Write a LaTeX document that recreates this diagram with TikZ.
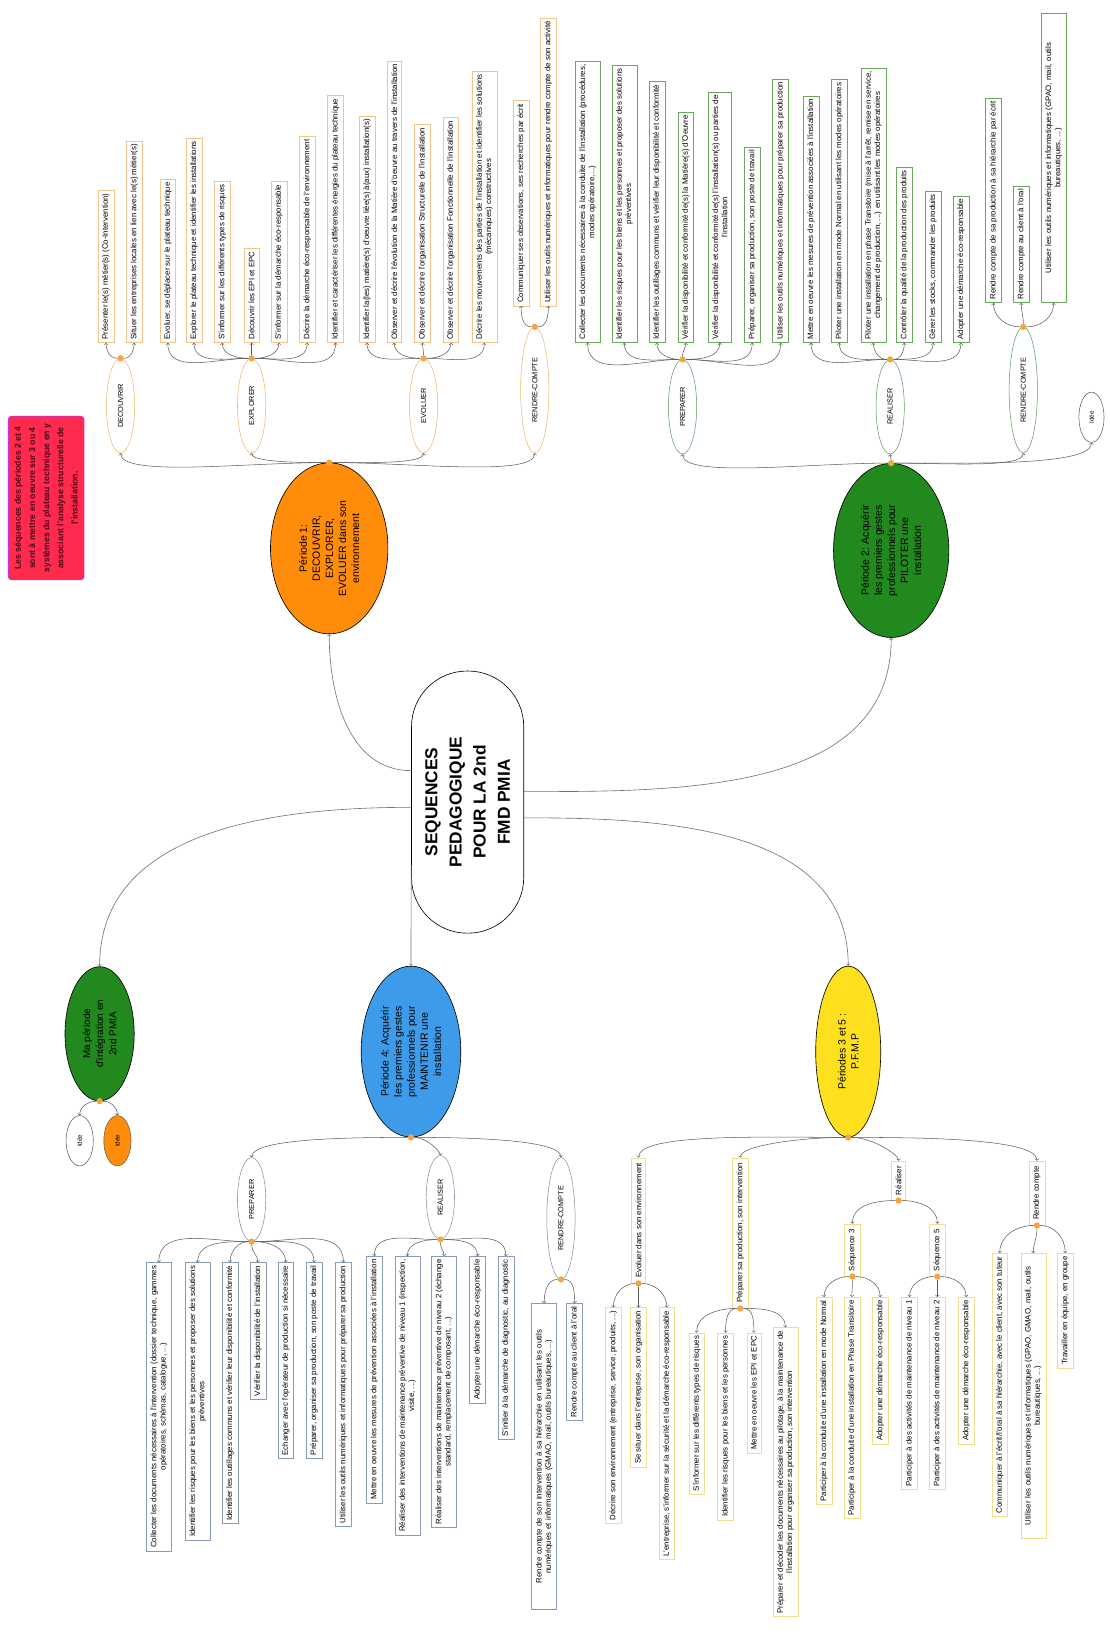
\documentclass[tikz,border=0pt]{standalone}
\usepackage{fontspec}
\setmainfont{Liberation Sans}
\usetikzlibrary{shapes.geometric}

\definecolor{porange}{HTML}{FF8C0A}
\definecolor{pgreen}{HTML}{22891E}
\definecolor{pblue}{HTML}{3D9BE9}
\definecolor{pyellow}{HTML}{FFE01E}
\definecolor{notered}{HTML}{FF2A4D}
\definecolor{noteline}{HTML}{CC33CC}
\definecolor{notetext}{HTML}{4A0A14}
\definecolor{hubcol}{HTML}{F7A440}
\definecolor{linkcol}{HTML}{5A5A5A}
\definecolor{orline}{HTML}{F0B46E}
\definecolor{orleaf}{HTML}{F3C58B}
\definecolor{grline}{HTML}{5A9E5A}
\definecolor{grleaf}{HTML}{6AA85E}
\definecolor{blline}{HTML}{8090A8}
\definecolor{blleaf}{HTML}{8A9BB8}
\definecolor{yeleaf}{HTML}{F0E08C}

\tikzstyle{rootnode} = [draw,rectangle,rounded corners=53pt,rotate=90,fill=white,align=center,minimum width=250pt,minimum height=107pt,font=\bfseries\fontsize{16.5}{23}\selectfont,line width=0.6pt]
\tikzstyle{period} = [draw,ellipse,rotate=90,align=center,inner sep=0pt,font=\fontsize{10}{12.5}\selectfont,line width=0.6pt]
\tikzstyle{branch} = [draw,ellipse,rotate=90,fill=white,inner sep=0pt,minimum width=90pt,minimum height=27pt,font=\fontsize{7}{8.4}\selectfont,line width=0.5pt]
\tikzstyle{leaf} = [draw,rectangle,rotate=90,fill=white,align=center,inner xsep=3pt,inner ysep=4pt,font=\fontsize{7.5}{8.8}\selectfont,line width=0.5pt]
\tikzstyle{notebox} = [draw=noteline,fill=notered,rectangle,rounded corners=3pt,rotate=90,align=center,text=notetext,minimum width=156pt,minimum height=72pt,font=\bfseries\fontsize{8.3}{13.5}\selectfont,line width=0.8pt]
\tikzstyle{hub} = [circle,fill=hubcol,inner sep=0pt,minimum size=6pt]
\tikzstyle{link} = [->,draw=linkcol,line width=0.5pt]
\tikzstyle{trunk} = [->,draw=linkcol!85,line width=0.6pt]
\tikzset{
  fanl/.style={out=180,in=-90}, fanr/.style={out=0,in=-90}, fanu/.style={out=90,in=-90},
  downl/.style={out=180,in=90}, downr/.style={out=0,in=90}, downs/.style={out=-90,in=90},
  spanl/.style={out=180,in=-90,in looseness=0.3}, spanr/.style={out=0,in=-90,in looseness=0.3},
  spandl/.style={out=180,in=90,in looseness=0.3}, spandr/.style={out=0,in=90,in looseness=0.3}
}

\begin{document}
\begin{tikzpicture}[x=1pt,y=1pt]
\useasboundingbox (0,0) rectangle (1058,-1568);

% note and centre
\node[notebox] (note) at (44,-475) {Les séquences des périodes 2 et 4\\sont à mettre en oeuvre sur 3 ou 4\\systèmes du plateau technique en y\\associant l'analyse structurelle de\\l'installation.};
\node[rootnode] (root) at (446,-765) {SEQUENCES\\PEDAGOGIQUE\\POUR LA 2nd\\FMD PMIA};

% periods
\node[period,fill=porange,minimum width=163pt,minimum height=112pt] (p1) at (314,-523) {Période 1:\\DECOUVRIR,\\EXPLORER,\\EVOLUER dans son\\environnement};
\node[period,fill=pgreen,minimum width=166pt,minimum height=110pt] (p2) at (850,-525) {Période 2: Acquérir\\les premiers gestes\\professionnels pour\\PILOTER une\\installation};
\node[period,fill=pblue,minimum width=163pt,minimum height=95pt] (p4) at (392,-1003) {Période 4: Acquérir\\les premiers gestes\\professionnels pour\\MAINTENIR une\\installation};
\node[period,fill=pyellow,minimum width=163pt,minimum height=62pt] (p35) at (809,-1003) {Périodes 3 et 5 :\\P.F.M.P};
\node[period,fill=pgreen,minimum width=128pt,minimum height=66pt,font=\fontsize{9.5}{12.5}\selectfont] (mp) at (95,-986) {Ma période\\d'intégration en\\2nd PMIA};

\draw[trunk] ([yshift=30pt]root.north) to[out=180,in=-90] (p1.west);
\draw[trunk] ([yshift=-5pt]root.north) to[out=180,in=90] (mp.east);
\draw[trunk] ([yshift=-60pt]root.north) to[out=-90,in=90] (p4.east);
\draw[trunk] ([yshift=10pt]root.south) to[out=0,in=-90] (p2.west);
\draw[trunk] ([yshift=-15pt]root.south) to[out=0,in=90] (p35.east);

% ma periode
\node[hub] (mph) at (mp.west) {};
\node[branch,draw=linkcol,minimum width=48pt,minimum height=26pt,font=\fontsize{6}{7}\selectfont] (id1) at (76,-1088) {Idée};
\node[branch,draw=linkcol,fill=porange,minimum width=48pt,minimum height=26pt,font=\fontsize{6}{7}\selectfont] (id2) at (112,-1088) {Idée};
\draw[link] (mph) to[downl] (id1.east);
\draw[link] (mph) to[downr] (id2.east);

% periode 1
\node[hub] (p1h) at (p1.east) {};
\node[branch,draw=orline] (dc) at (115,-387) {DECOUVRIR};
\node[branch,draw=orline] (ex) at (240,-387) {EXPLORER};
\node[branch,draw=orline] (ev1) at (404,-387) {EVOLUER};
\node[branch,draw=orline,minimum width=120pt] (rc1) at (510,-372) {RENDRE-COMPTE};
\node[hub] (dch) at (dc.east) {};
\node[hub] (exh) at (ex.east) {};
\node[hub] (ev1h) at (ev1.east) {};
\node[hub] (rc1h) at (rc1.east) {};
\draw[link] (p1h) to[spanl] (dc.west);
\draw[link] (p1h) to[spanl] (ex.west);
\draw[link] (p1h) to[spanr] (ev1.west);
\draw[link] (p1h) to[spanr] (rc1.west);

\node[leaf,draw=orleaf,anchor=west] (d1) at (101,-327) {Présenter le(s) métier(s) (Co-Intervention)};
\node[leaf,draw=orleaf,anchor=west] (d2) at (128,-327) {Situer les entreprises locales en lien avec le(s) métier(s)};
\node[leaf,draw=orleaf,anchor=west] (x1) at (160,-327) {Evoluer, se déplacer sur le plateau technique};
\node[leaf,draw=orleaf,anchor=west] (x2) at (185,-327) {Explorer le plateau technique et identifier les installations};
\node[leaf,draw=orleaf,anchor=west] (x3) at (212,-327) {S'informer sur les différents types de risques};
\node[leaf,draw=orleaf,anchor=west] (x4) at (240,-327) {Découvrir les EPI et EPC};
\node[leaf,draw=orleaf,anchor=west] (x5) at (266,-327) {S'informer sur la démarche éco-responsable};
\node[leaf,draw=orleaf,anchor=west] (x6) at (293,-327) {Décrire la démarche éco-responsable de l'environnement};
\node[leaf,draw=orleaf,anchor=west] (x7) at (320,-327) {Identifier et caractériser les différentes énergies du plateau technique};
\node[leaf,draw=orleaf,anchor=west] (v1) at (350,-327) {Identifier la(les) matière(s) d'oeuvre liée(s) à(aux) installation(s)};
\node[leaf,draw=orleaf,anchor=west] (v2) at (376,-327) {Observer et décrire l'évolution de la Matière d'oeuvre au travers de l'installation};
\node[leaf,draw=orleaf,anchor=west] (v3) at (403,-327) {Observer et décrire l'organisation Structurelle de l'installation};
\node[leaf,draw=orleaf,anchor=west] (v4) at (430,-327) {Observer et décrire l'organisation Fonctionnelle de l'installation};
\node[leaf,draw=orleaf,anchor=west] (v5) at (462,-327) {Décrire les mouvements des parties de l'installation et identifier les solutions\\(mécaniques) constructives};
\node[leaf,draw=orleaf,anchor=west] (r1) at (497,-292) {Communiquer ses observations, ses recherches par écrit};
\node[leaf,draw=orleaf,anchor=west] (r2) at (523,-292) {Utiliser les outils numériques et informatiques pour rendre compte de son activité};

\draw[link] (dch) to[fanl] (d1.west);
\draw[link] (dch) to[fanr] (d2.west);
\draw[link] (exh) to[fanl] (x1.west);
\draw[link] (exh) to[fanl] (x2.west);
\draw[link] (exh) to[fanl] (x3.west);
\draw[link] (exh) to[fanu] (x4.west);
\draw[link] (exh) to[fanr] (x5.west);
\draw[link] (exh) to[fanr] (x6.west);
\draw[link] (exh) to[fanr] (x7.west);
\draw[link] (ev1h) to[fanl] (v1.west);
\draw[link] (ev1h) to[fanl] (v2.west);
\draw[link] (ev1h) to[fanu] (v3.west);
\draw[link] (ev1h) to[fanr] (v4.west);
\draw[link] (ev1h) to[fanr] (v5.west);
\draw[link] (rc1h) to[fanl] (r1.west);
\draw[link] (rc1h) to[fanr] (r2.west);

% periode 2
\node[hub] (p2h) at (p2.east) {};
\node[branch,draw=grline] (pp) at (651,-388) {PREPARER};
\node[branch,draw=grline] (pr) at (849,-388) {REALISER};
\node[branch,draw=grline,minimum width=120pt] (pc) at (976,-372) {RENDRE-COMPTE};
\node[branch,draw=linkcol,minimum width=48pt,minimum height=24pt,font=\fontsize{6}{7}\selectfont] (id3) at (1041,-398) {Idée};
\node[hub] (pph) at (pp.east) {};
\node[hub] (prh) at (pr.east) {};
\node[hub] (pch) at (pc.east) {};
\draw[link] (p2h) to[spanl] (pp.west);
\draw[link] (p2h) to[fanu] (pr.west);
\draw[link] (p2h) to[spanr] (pc.west);
\draw[link] (p2h) to[spanr] (id3.west);

\node[leaf,draw=grleaf,anchor=west] (pp1) at (560.5,-327) {Collecter les documents nécessaires à la conduite de l'installation (procédures,\\modes opératoire,...)};
\node[leaf,draw=grleaf,anchor=west] (pp2) at (595.5,-327) {Identifier les risques pour les biens et les personnes et proposer des solutions\\préventives};
\node[leaf,draw=grleaf,anchor=west] (pp3) at (626.5,-327) {Identifier les outillages communs et vérifier leur disponibilité et conformité};
\node[leaf,draw=grleaf,anchor=west] (pp4) at (654,-327) {Vérifier la disponibilité et conformité de(s) la Matière(s) d'Oeuvre};
\node[leaf,draw=grleaf,anchor=west] (pp5) at (686.5,-327) {Vérifier la disponibilité et conformité de(s) l'installation(s) ou parties de\\l'installation};
\node[leaf,draw=grleaf,anchor=west] (pp6) at (717.5,-327) {Préparer, organiser sa production, son poste de travail};
\node[leaf,draw=grleaf,anchor=west] (pp7) at (744.5,-327) {Utiliser les outils numériques et informatiques pour préparer sa production};
\node[leaf,draw=grleaf,anchor=west] (pr1) at (773.5,-327) {Mettre en oeuvre les mesures de prévention associées à l'installation};
\node[leaf,draw=grleaf,anchor=west] (pr2) at (800.5,-327) {Piloter une installation en mode Normal en utilisant les modes opératoires};
\node[leaf,draw=grleaf,anchor=west] (pr3) at (833,-327) {Piloter une installation en phase Transitoire (mise à l'arrêt, remise en service,\\changement de production, ...) en utilisant les modes opératoires};
\node[leaf,draw=grleaf,anchor=west] (pr4) at (862.5,-327) {Contrôler la qualité de la production des produits};
\node[leaf,draw=grleaf,anchor=west] (pr5) at (890,-327) {Gérer les stocks, commander les produits};
\node[leaf,draw=grleaf,anchor=west] (pr6) at (916.5,-327) {Adopter une démarche éco-responsable};
\node[leaf,draw=grleaf,anchor=west] (pc1) at (947.5,-289) {Rendre compte de sa production à sa hiérarchie par écrit};
\node[leaf,draw=grleaf,anchor=west] (pc2) at (974,-289) {Rendre compte au client à l'oral};
\node[leaf,draw=grleaf,anchor=west,text width=270pt] (pc3) at (1005,-289) {Utiliser les outils numériques et informatiques (GPAO, mail, outils\\bureautiques, ...)};

\draw[link] (pph) to[fanl] (pp1.west);
\draw[link] (pph) to[fanl] (pp2.west);
\draw[link] (pph) to[fanl] (pp3.west);
\draw[link] (pph) to[fanu] (pp4.west);
\draw[link] (pph) to[fanr] (pp5.west);
\draw[link] (pph) to[fanr] (pp6.west);
\draw[link] (pph) to[fanr] (pp7.west);
\draw[link] (prh) to[fanl] (pr1.west);
\draw[link] (prh) to[fanl] (pr2.west);
\draw[link] (prh) to[fanl] (pr3.west);
\draw[link] (prh) to[fanr] (pr4.west);
\draw[link] (prh) to[fanr] (pr5.west);
\draw[link] (prh) to[fanr] (pr6.west);
\draw[link] (pch) to[fanl] (pc1.west);
\draw[link] (pch) to[fanu] (pc2.west);
\draw[link] (pch) to[fanr] (pc3.west);

% periode 4
\node[hub] (p4h) at (p4.west) {};
\node[branch,draw=blline,minimum width=80pt] (mpp) at (240,-1144) {PREPARER};
\node[branch,draw=blline,minimum width=80pt] (mre) at (420,-1142) {REALISER};
\node[branch,draw=blline,minimum width=116pt] (mrc) at (535,-1162) {RENDRE-COMPTE};
\node[hub] (mpph) at (mpp.west) {};
\node[hub] (mreh) at (mre.west) {};
\node[hub] (mrch) at (mrc.west) {};
\draw[link] (p4h) to[spandl] (mpp.east);
\draw[link] (p4h) to[spandr] (mre.east);
\draw[link] (p4h) to[spandr] (mrc.east);

\node[leaf,draw=blleaf,anchor=east] (mp1) at (151.5,-1204) {Collecter les documents nécessaires à l'intervention (dossier technique, gammes\\opératoires, schémas, catalogue, ...)};
\node[leaf,draw=blleaf,anchor=east] (mp2) at (188.5,-1204) {Identifier les risques pour les biens et les personnes et proposer des solutions\\préventives};
\node[leaf,draw=blleaf,anchor=east] (mp3) at (219.5,-1204) {Identifier les outillages communs et vérifier leur disponibilité et conformité};
\node[leaf,draw=blleaf,anchor=east] (mp4) at (246,-1204) {Vérifier la disponibilité de l'installation};
\node[leaf,draw=blleaf,anchor=east] (mp5) at (272.5,-1204) {Echanger avec l'opérateur de production si nécessaire};
\node[leaf,draw=blleaf,anchor=east] (mp6) at (299.5,-1204) {Préparer, organiser sa production, son poste de travail};
\node[leaf,draw=blleaf,anchor=east] (mp7) at (327.5,-1204) {Utiliser les outils numériques et informatiques pour préparer sa production};
\node[leaf,draw=blleaf,anchor=east] (mr1) at (357,-1198) {Mettre en oeuvre les mesures de prévention associées à l'installation};
\node[leaf,draw=blleaf,anchor=east] (mr2) at (388.5,-1198) {Réaliser des interventions de maintenance préventive de niveau 1 (inspection,\\visite, ...)};
\node[leaf,draw=blleaf,anchor=east] (mr3) at (423.5,-1198) {Réaliser des interventions de maintenance préventive de niveau 2 (échange\\standard, remplacement de composant, ...)};
\node[leaf,draw=blleaf,anchor=east] (mr4) at (455.5,-1198) {Adopter une démarche éco-responsable};
\node[leaf,draw=blleaf,anchor=east] (mr5) at (482.5,-1198) {S'initier à la démarche de diagnostic, au diagnostic};
\node[leaf,draw=blleaf,anchor=east,text width=286pt] (mc1) at (519,-1243) {Rendre compte de son intervention à sa hiérarchie en utilisant les outils\\numériques et informatiques (GMAO, mail, outils bureautiques, ...)};
\node[leaf,draw=blleaf,anchor=east] (mc2) at (548,-1243) {Rendre compte au client à l'oral};

\draw[link] (mpph) to[downl] (mp1.east);
\draw[link] (mpph) to[downl] (mp2.east);
\draw[link] (mpph) to[downl] (mp3.east);
\draw[link] (mpph) to[downs] (mp4.east);
\draw[link] (mpph) to[downr] (mp5.east);
\draw[link] (mpph) to[downr] (mp6.east);
\draw[link] (mpph) to[downr] (mp7.east);
\draw[link] (mreh) to[downl] (mr1.east);
\draw[link] (mreh) to[downl] (mr2.east);
\draw[link] (mreh) to[downs] (mr3.east);
\draw[link] (mreh) to[downr] (mr4.east);
\draw[link] (mreh) to[downr] (mr5.east);
\draw[link] (mrch) to[downl] (mc1.east);
\draw[link] (mrch) to[downr] (mc2.east);

% periodes 3 et 5
\node[hub] (p35h) at (p35.west) {};
\node[leaf,draw=yeleaf,inner xsep=5pt,anchor=east] (ev) at (609,-1104) {Evoluer dans son environnement};
\node[leaf,draw=yeleaf,inner xsep=5pt,anchor=east] (pe) at (706,-1104) {Préparer sa production, son intervention};
\node[leaf,draw=yeleaf,inner xsep=5pt,anchor=east] (re) at (857,-1107) {Réaliser};
\node[leaf,draw=yeleaf,inner xsep=5pt,anchor=east] (rc) at (989,-1107) {Rendre compte};
\node[hub] (evh) at (ev.west) {};
\node[hub] (peh) at (pe.west) {};
\node[hub] (reh) at (re.west) {};
\node[hub] (rch) at (rc.west) {};
\node[leaf,draw=yeleaf,inner xsep=5pt,anchor=east] (s3) at (813,-1167) {Séquence 3};
\node[leaf,draw=yeleaf,inner xsep=5pt,anchor=east] (s5) at (894,-1167) {Séquence 5};
\node[hub] (s3h) at (s3.west) {};
\node[hub] (s5h) at (s5.west) {};
\draw[link] (p35h) to[spandl] (ev.east);
\draw[link] (p35h) to[spandl] (pe.east);
\draw[link] (p35h) to[spandr] (re.east);
\draw[link] (p35h) to[spandr] (rc.east);
\draw[link] (reh) to[downl] (s3.east);
\draw[link] (reh) to[downr] (s5.east);

\node[leaf,draw=yeleaf,anchor=east] (e1) at (585,-1247) {Décrire son environnement (entreprise, service, produits, ...)};
\node[leaf,draw=yeleaf,anchor=east] (e2) at (609,-1247) {Se situer dans l'entreprise, son organisation};
\node[leaf,draw=yeleaf,anchor=east] (e3) at (636,-1247) {L'entreprise, s'informer sur la sécurité et la démarche éco-responsable};
\node[leaf,draw=yeleaf,anchor=east] (f1) at (664.5,-1271) {S'informer sur les différents types de risques};
\node[leaf,draw=yeleaf,anchor=east] (f2) at (692,-1271) {Identifier les risques pour les biens et les personnes};
\node[leaf,draw=yeleaf,anchor=east] (f3) at (719,-1271) {Mettre en oeuvre les EPI et EPC};
\node[leaf,draw=yeleaf,anchor=east] (f4) at (749,-1266) {Préparer et décoder les documents nécessaires au pilotage, à la maintenance de\\l'installation pour organiser sa production, son intervention};
\node[leaf,draw=yeleaf,anchor=east] (g1) at (786,-1237) {Participer à la conduite d'une installation en mode Normal};
\node[leaf,draw=yeleaf,anchor=east] (g2) at (812.5,-1237) {Participer à la conduite d'une installation en Phase Transitoire};
\node[leaf,draw=yeleaf,anchor=east] (g3) at (839.5,-1237) {Adopter une démarche éco-responsable};
\node[leaf,draw=yeleaf,anchor=east] (h1) at (867.5,-1237) {Participer à des activités de maintenance de niveau 1};
\node[leaf,draw=yeleaf,anchor=east] (h2) at (894,-1237) {Participer à des activités de maintenance de niveau 2};
\node[leaf,draw=yeleaf,anchor=east] (h3) at (921.5,-1237) {Adopter une démarche éco-responsable};
\node[leaf,draw=yeleaf,anchor=east] (k1) at (953.5,-1195) {Communiquer à l'écrit/l'oral à sa hiérarchie, avec le client, avec son tuteur};
\node[leaf,draw=yeleaf,anchor=east,text width=266pt] (k2) at (985.5,-1195) {Utiliser les outils numériques et informatiques (GPAO, GMAO, mail, outils\\bureautiques, ...)};
\node[leaf,draw=yeleaf,anchor=east] (k3) at (1016,-1195) {Travailler en équipe, en groupe};

\draw[link] (evh) to[downl] (e1.east);
\draw[link] (evh) to[downs] (e2.east);
\draw[link] (evh) to[downr] (e3.east);
\draw[link] (peh) to[downl] (f1.east);
\draw[link] (peh) to[downl] (f2.east);
\draw[link] (peh) to[downr] (f3.east);
\draw[link] (peh) to[downr] (f4.east);
\draw[link] (s3h) to[downl] (g1.east);
\draw[link] (s3h) to[downs] (g2.east);
\draw[link] (s3h) to[downr] (g3.east);
\draw[link] (s5h) to[downl] (h1.east);
\draw[link] (s5h) to[downs] (h2.east);
\draw[link] (s5h) to[downr] (h3.east);
\draw[link] (rch) to[downl] (k1.east);
\draw[link] (rch) to[downs] (k2.east);
\draw[link] (rch) to[downr] (k3.east);
\end{tikzpicture}
\end{document}
